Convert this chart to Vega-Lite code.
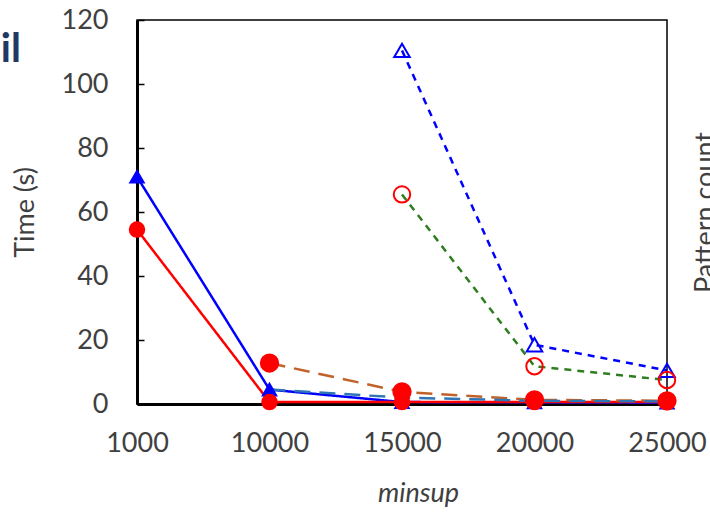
{
  "$schema": "https://vega.github.io/schema/vega-lite/v6.json",
  "autosize": {"type": "none"},
  "width": 530,
  "height": 384,
  "padding": {"left": 137, "top": 20, "right": 43, "bottom": 111},
  "background": "white",
  "title": {
    "text": "Retail",
    "anchor": "start",
    "frame": "group",
    "font": "Lato",
    "fontWeight": "bold",
    "fontSize": 40,
    "color": "#203864",
    "dx": -217,
    "dy": 68
  },
  "config": {
    "view": {"stroke": "#000000", "strokeWidth": 1.5},
    "axis": {"labelFont": "Lato", "titleFont": "Lato", "labelColor": "#404040", "titleColor": "#404040", "grid": false}
  },
  "data": {
    "values": [
      {"minsup": "1000", "time": 71, "series": "A"},
      {"minsup": "10000", "time": 4.5, "series": "A"},
      {"minsup": "15000", "time": 0.6, "series": "A"},
      {"minsup": "20000", "time": 0.5, "series": "A"},
      {"minsup": "25000", "time": 0.4, "series": "A"},
      {"minsup": "1000", "time": 54.5, "series": "B"},
      {"minsup": "10000", "time": 0.6, "series": "B"},
      {"minsup": "15000", "time": 0.6, "series": "B"},
      {"minsup": "20000", "time": 0.6, "series": "B"},
      {"minsup": "25000", "time": 0.6, "series": "B"},
      {"minsup": "15000", "time": 110.5, "series": "C"},
      {"minsup": "20000", "time": 18.5, "series": "C"},
      {"minsup": "25000", "time": 10.5, "series": "C"},
      {"minsup": "15000", "time": 65.5, "series": "D"},
      {"minsup": "20000", "time": 11.8, "series": "D"},
      {"minsup": "25000", "time": 7.5, "series": "D"},
      {"minsup": "10000", "time": 12.8, "series": "E"},
      {"minsup": "15000", "time": 3.8, "series": "E"},
      {"minsup": "20000", "time": 1.3, "series": "E"},
      {"minsup": "25000", "time": 1.0, "series": "E"},
      {"minsup": "10000", "time": 4.5, "series": "F"},
      {"minsup": "15000", "time": 2.0, "series": "F"},
      {"minsup": "20000", "time": 1.0, "series": "F"},
      {"minsup": "25000", "time": 0.8, "series": "F"}
    ]
  },
  "encoding": {
    "x": {
      "field": "minsup",
      "type": "ordinal",
      "sort": ["1000", "10000", "15000", "20000", "25000"],
      "scale": {"type": "point", "padding": 0},
      "axis": {
        "title": "minsup",
        "titleFontStyle": "italic",
        "titleFontWeight": "normal",
        "titleFontSize": 27,
        "labelFontSize": 27,
        "labelAngle": 0,
        "labelPadding": 26,
        "ticks": false,
        "domainColor": "#000000",
        "domainWidth": 3,
        "titlePadding": 24,
        "titleX": 281
      }
    }
  },
  "layer": [
    {
      "encoding": {
        "y": {
          "field": "time",
          "type": "quantitative",
          "scale": {"domain": [0, 120]},
          "axis": {
            "title": "Time (s)",
            "titleFontWeight": "normal",
            "titleFontSize": 27,
            "labelFontSize": 27,
            "values": [0, 20, 40, 60, 80, 100, 120],
            "tickSize": -7,
            "tickWidth": 1.5,
            "tickColor": "#000000",
            "domainColor": "#000000",
            "domainWidth": 3,
            "labelPadding": 36,
            "titlePadding": 22
          }
        }
      },
      "layer": [
        {
          "mark": {"type": "line", "strokeWidth": 2.5},
          "encoding": {
            "color": {
              "field": "series",
              "type": "nominal",
              "scale": {"domain": ["A", "B", "C", "D", "E", "F"], "range": ["#0000ff", "#ff0000", "#0000ff", "#2e7d1e", "#c0622a", "#2e75b6"]},
              "legend": null
            },
            "strokeDash": {
              "field": "series",
              "type": "nominal",
              "scale": {"domain": ["A", "B", "C", "D", "E", "F"], "range": [[1, 0], [1, 0], [7, 6], [7, 6], [16, 9], [16, 9]]},
              "legend": null
            },
            "detail": {"field": "series"}
          }
        },
        {
          "transform": [{"filter": "datum.series !== 'F'"}],
          "mark": {"type": "point", "strokeWidth": 2, "opacity": 1},
          "encoding": {
            "shape": {
              "field": "series",
              "type": "nominal",
              "scale": {"domain": ["A", "B", "C", "D", "E"], "range": ["triangle-up", "circle", "triangle-up", "circle", "circle"]},
              "legend": null
            },
            "fill": {
              "field": "series",
              "type": "nominal",
              "scale": {"domain": ["A", "B", "C", "D", "E"], "range": ["#0000ff", "#ff0000", "transparent", "transparent", "#ff0000"]},
              "legend": null
            },
            "stroke": {
              "field": "series",
              "type": "nominal",
              "scale": {"domain": ["A", "B", "C", "D", "E"], "range": ["#0000ff", "#ff0000", "#0000ff", "#ff0000", "#ff0000"]},
              "legend": null
            },
            "size": {
              "field": "series",
              "type": "nominal",
              "scale": {"domain": ["A", "B", "C", "D", "E"], "range": [180, 300, 200, 280, 300]},
              "legend": null
            }
          }
        }
      ]
    },
    {
      "mark": {"type": "point", "opacity": 0},
      "encoding": {
        "y": {
          "field": "time",
          "type": "quantitative",
          "scale": {"domain": [0, 120]},
          "axis": {
            "orient": "right",
            "title": "Pattern count",
            "titleFontWeight": "normal",
            "titleFontSize": 27,
            "titleAngle": 270,
            "labels": false,
            "ticks": false,
            "domain": false,
            "titlePadding": 52
          }
        }
      }
    }
  ],
  "resolve": {"scale": {"y": "independent"}, "axis": {"y": "independent"}}
}
